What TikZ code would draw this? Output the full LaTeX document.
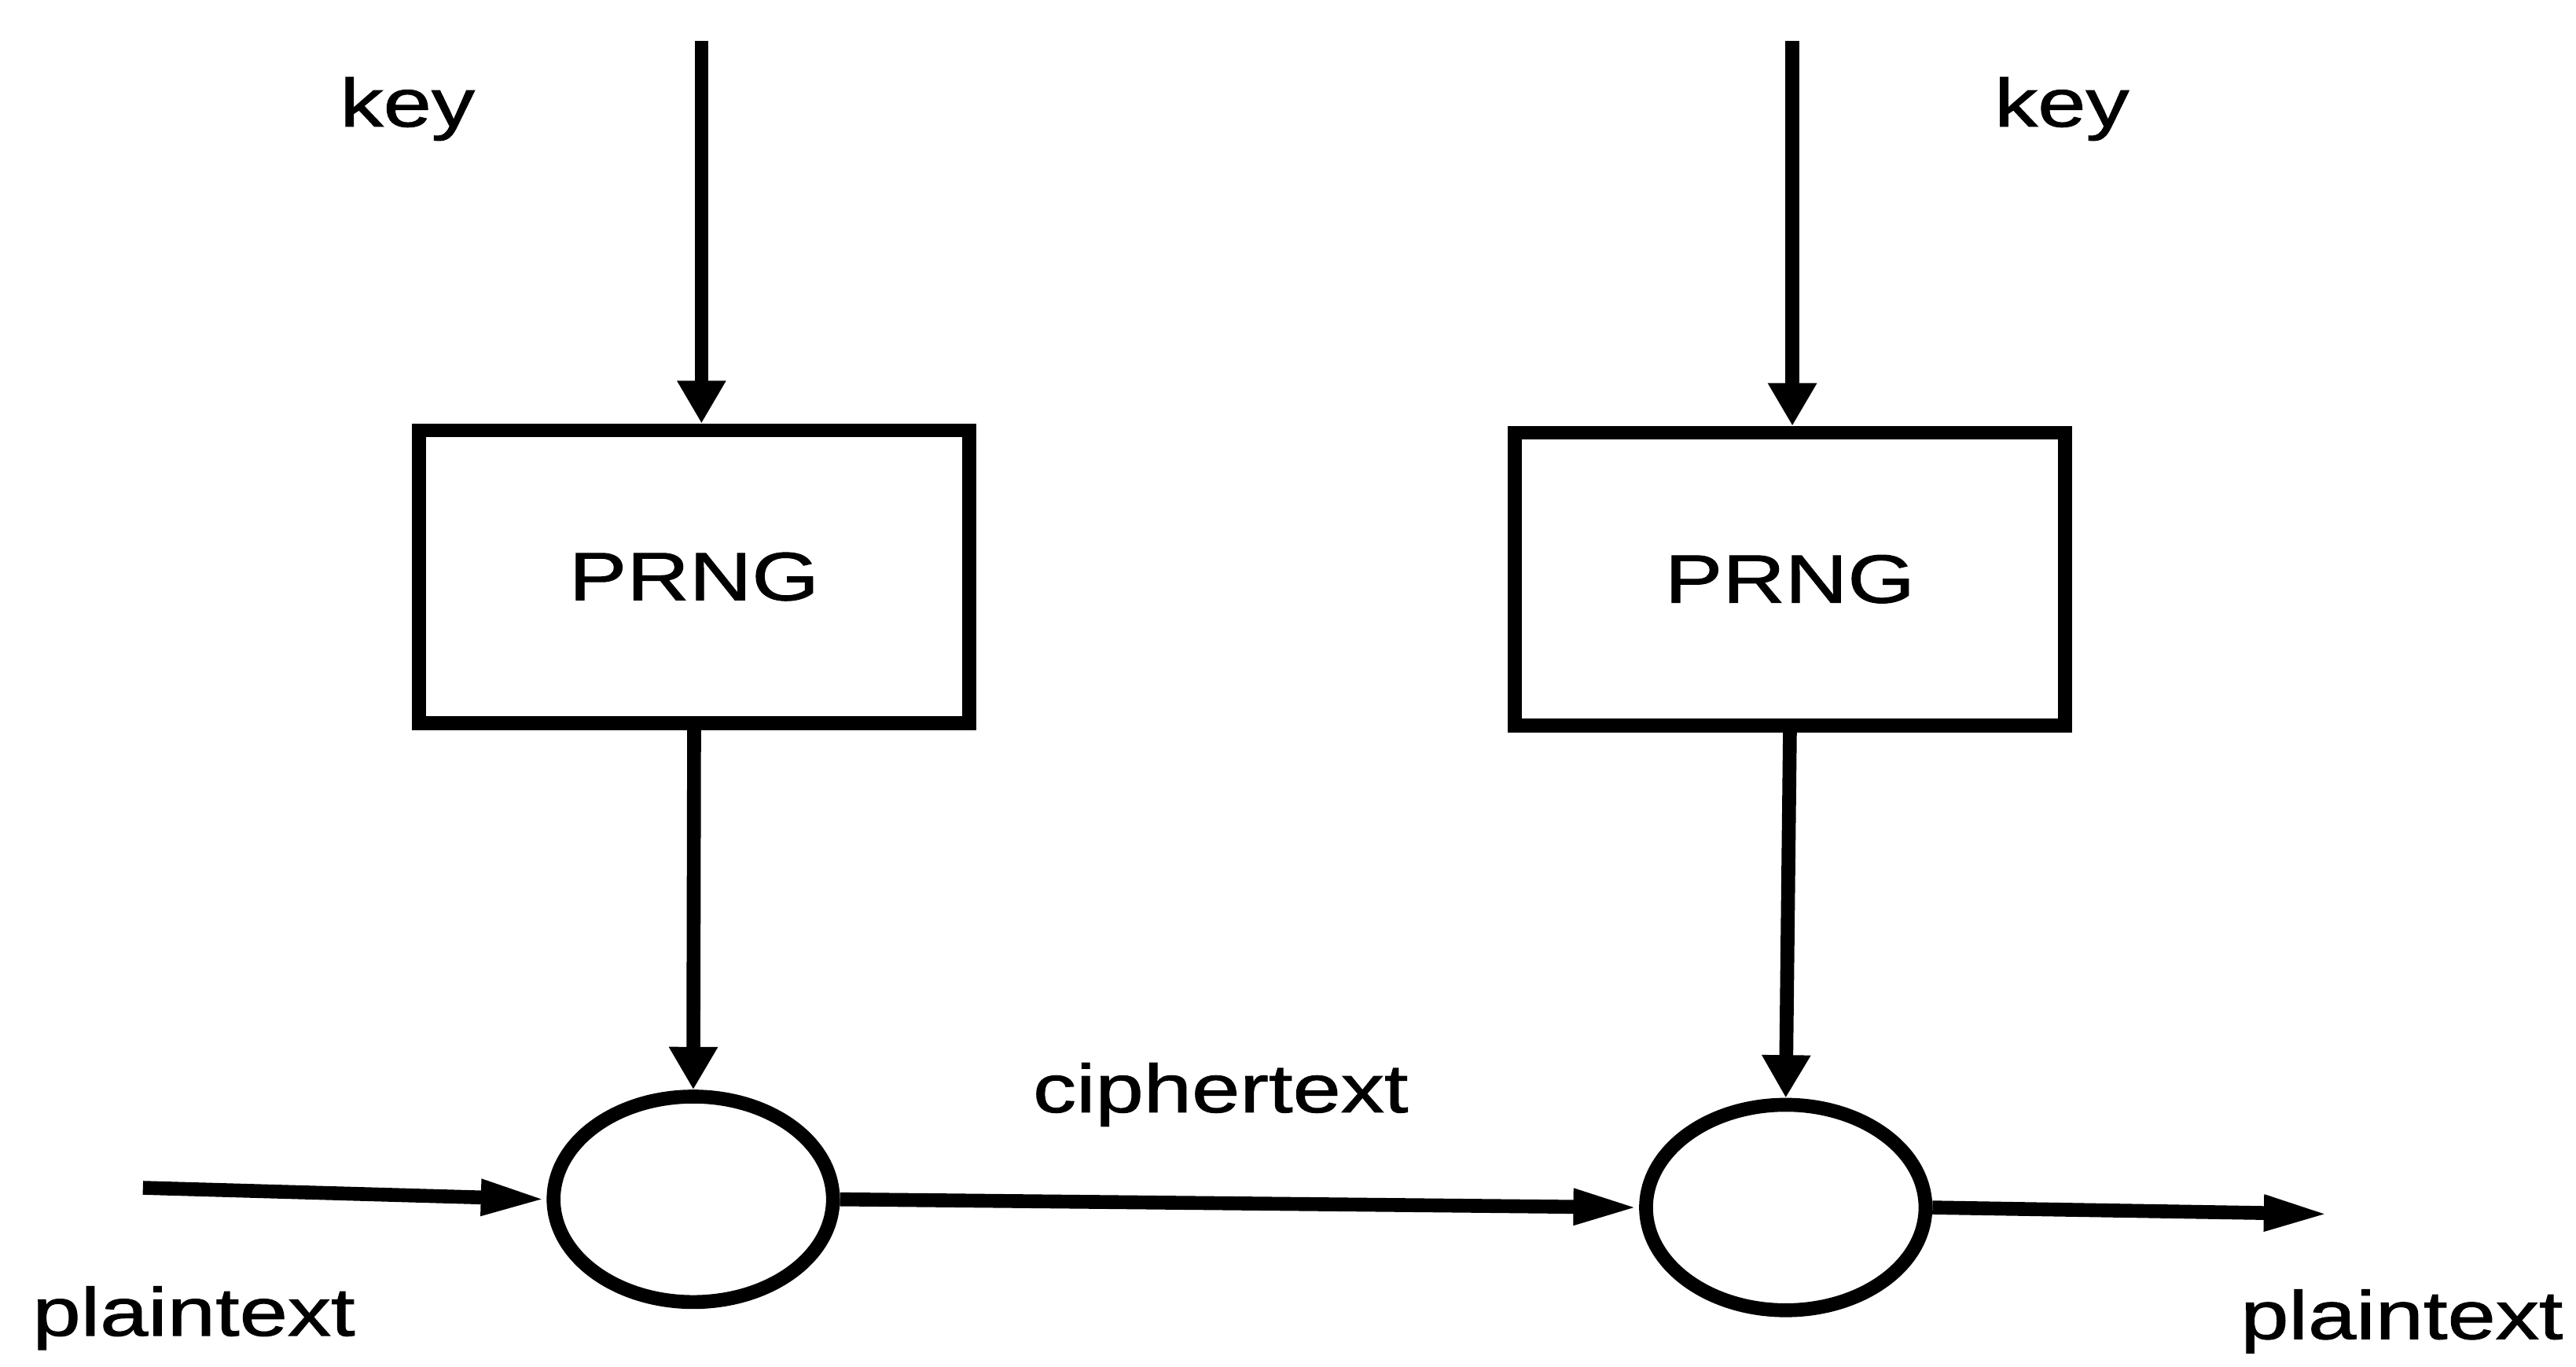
\documentclass[tikz,border=0pt]{standalone}
\usepackage{fontspec}
\setmainfont{Liberation Sans}[FakeStretch=1.27,FakeBold=1.2]
\usetikzlibrary{arrows.meta,shapes.geometric}

\begin{document}
\begin{tikzpicture}[x=0.01cm,y=-0.01cm,
  line width=2.4pt,
  txt/.style={font=\fontsize{11.8}{14}\selectfont},
  box/.style={draw, rectangle, txt, minimum width=3.35cm, minimum height=1.78cm, inner sep=0pt},
  xorop/.style={draw, ellipse, minimum width=1.70cm, minimum height=1.25cm, inner sep=0pt},
  lbl/.style={txt, inner sep=0pt, anchor=base},
  vflow/.style={-{Triangle[length=0.26cm,width=0.28cm]}},
  hflow/.style={-{Triangle[length=0.40cm,width=0.20cm]}},
]
\useasboundingbox (0,0) rectangle (1568,832);

% generators and combiners
\node[box] (prngA) at (422.5,351) {PRNG};
\node[box] (prngB) at (1089.5,352.5) {PRNG};
\node[xorop] (xorA) at (422,730) {};
\node[xorop] (xorB) at (1087,735) {};

% free ends of the flows
\coordinate (keyA) at (427,25);
\coordinate (keyB) at (1091,25);
\coordinate (ptIn) at (87,723);
\coordinate (ptOut) at (1418,739);

% flows
\draw[vflow] (keyA) -- (keyA |- prngA.north);
\draw[vflow] (keyB) -- (keyB |- prngB.north);
\draw[vflow] (prngA.south) -- (xorA.north);
\draw[vflow] (prngB.south) -- (xorB.north);
\draw[hflow] (ptIn) -- (xorA.west);
\draw[hflow] (xorA.east) -- (xorB.west);
\draw[hflow] (xorB.east) -- (ptOut);

% labels
\node[lbl] (keyLblA) at (248,77) {key};
\node[lbl] (keyLblB) at (1255,77) {key};
\node[lbl] (ptLblA) at (118,813) {plaintext};
\node[lbl] (ptLblB) at (1462,815) {plaintext};
\node[lbl] (ctLbl) at (743,677) {ciphertext};
\end{tikzpicture}
\end{document}
